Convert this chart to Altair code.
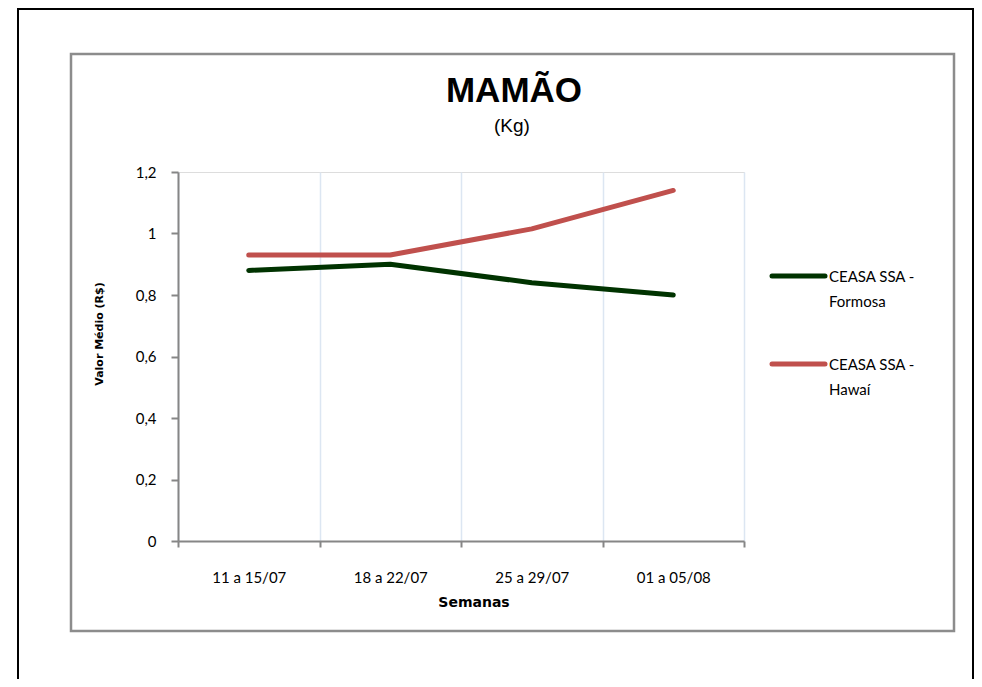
import altair as alt
import pandas as pd

weeks = ["11 a 15/07", "18 a 22/07", "25 a 29/07", "01 a 05/08"]
series = ["CEASA SSA - Formosa", "CEASA SSA - Hawaí"]
formosa = [0.88, 0.90, 0.84, 0.80]
hawai = [0.93, 0.93, 1.015, 1.14]
colors = ["#003300", "#c0504d"]
y_ticks = [0, 0.2, 0.4, 0.6, 0.8, 1.0, 1.2]

rows = []
for name, vals in zip(series, [formosa, hawai]):
    for w, v in zip(weeks, vals):
        rows.append({"Semana": w, "Série": name, "Valor": v})
df = pd.DataFrame(rows)

W, H = 566, 369
FONT = "Lato"
one = pd.DataFrame({"a": [0]})

lines = alt.Chart(df).mark_line(strokeWidth=5, strokeCap="round", strokeJoin="round").encode(
    x=alt.X("Semana:N", sort=weeks,
            scale=alt.Scale(paddingInner=0, paddingOuter=0),
            axis=alt.Axis(title=None, labelAngle=0, tickBand="extent", grid=True,
                          gridColor="#dce6f2", gridWidth=1.5,
                          domainColor="#868686", domainWidth=2,
                          tickColor="#868686", tickWidth=2, tickSize=6,
                          labelFont=FONT, labelFontSize=15, labelColor="#000000",
                          labelPadding=23)),
    y=alt.Y("Valor:Q", scale=alt.Scale(domain=[0, 1.2], nice=False),
            axis=alt.Axis(title=None, values=y_ticks, grid=False,
                          labelExpr="replace(format(datum.value, '.1~f'), '.', ',')",
                          domainColor="#868686", domainWidth=2,
                          tickColor="#868686", tickWidth=2, tickSize=7,
                          labelFont=FONT, labelFontSize=15, labelColor="#000000",
                          labelPadding=15)),
    color=alt.Color("Série:N", scale=alt.Scale(domain=series, range=colors), legend=None),
)

outer = alt.Chart(one).mark_rect(filled=False, stroke="#000000", strokeWidth=2).encode(
    x=alt.value(-160), x2=alt.value(795), y=alt.value(-163), y2=alt.value(560))
inner = alt.Chart(one).mark_rect(filled=False, stroke="#8c8c8c", strokeWidth=2.5).encode(
    x=alt.value(-107), x2=alt.value(776), y=alt.value(-118), y2=alt.value(459))

title = alt.Chart(one).mark_text(text="MAMÃO", font="Liberation Sans", fontSize=35,
                                 fontWeight="bold", align="center", baseline="alphabetic").encode(
    x=alt.value(336), y=alt.value(-70))
subtitle = alt.Chart(one).mark_text(text="(Kg)", font="Liberation Sans", fontSize=19,
                                    align="center", baseline="alphabetic").encode(
    x=alt.value(334), y=alt.value(-40))
ytitle = alt.Chart(one).mark_text(text="Valor Médio (R$)", font="DejaVu Sans", fontSize=11,
                                  fontWeight="bold", angle=270, align="center",
                                  baseline="middle").encode(
    x=alt.value(-78), y=alt.value(162))
xtitle = alt.Chart(one).mark_text(text="Semanas", font="DejaVu Sans", fontSize=14,
                                  fontWeight="bold", align="center", baseline="middle").encode(
    x=alt.value(296), y=alt.value(431))

legend_layers = []
for i, (name, col) in enumerate(zip(series, colors)):
    ys = 104 + i * 88
    legend_layers.append(alt.Chart(one).mark_rule(stroke=col, strokeWidth=5, strokeCap="round").encode(
        x=alt.value(594), x2=alt.value(647), y=alt.value(ys)))
    legend_layers.append(alt.Chart(one).mark_text(font=FONT, fontSize=15, align="left",
                                                  baseline="alphabetic", lineHeight=25,
                                                  color="#000000").encode(
        x=alt.value(651), y=alt.value(ys + 6),
        text=alt.value([name[:11], name[12:]])))

chart = alt.layer(outer, inner, lines, title, subtitle, ytitle, xtitle, *legend_layers).properties(
    width=W, height=H,
    padding={"left": 170, "top": 164, "right": 230, "bottom": 138},
    autosize=alt.AutoSizeParams(type="none"),
).configure_view(stroke=None).configure(background="#ffffff")

chart.save("out.html", embed_options={"renderer": "svg", "actions": False})
